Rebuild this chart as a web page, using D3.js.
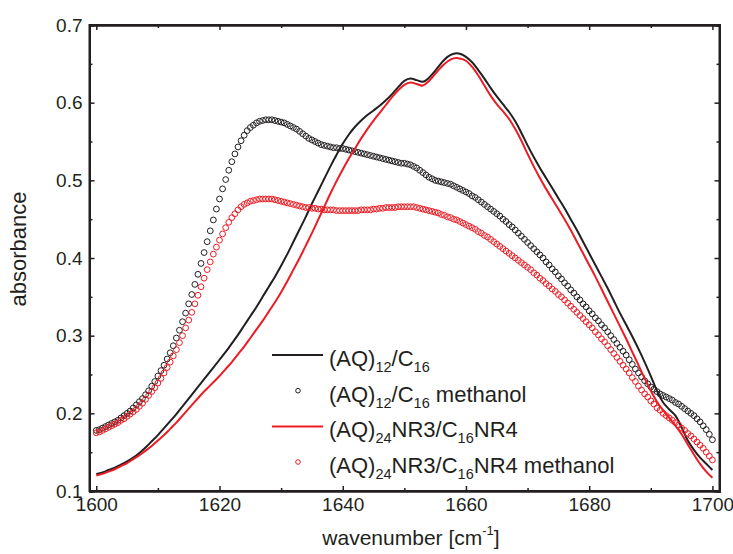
<!DOCTYPE html>
<html>
<head>
<meta charset="utf-8">
<script src="https://cdn.jsdelivr.net/npm/d3@7"></script>
<style>
  body { margin: 0; background: #fff; }
  svg { font-family: "Liberation Sans", Arial, sans-serif; }
  .axis path, .axis line { stroke: #231f20; }
  .axis text { fill: #231f20; font-size: 19px; }
</style>
</head>
<body>
<script>
// wavenumber grid (cm-1)
var lineStart = 1600, lineStep = 1;
var circStart = 1600, circStep = 0.5;

// (AQ)12/C16 solid line, 1 cm-1 steps
var lineAQ12 = [
  .122,.124,.127,.130,.134,.138,.143,.149,.156,.164,
  .172,.181,.190,.199,.209,.219,.229,.239,.249,.259,
  .269,.279,.290,.301,.313,.325,.337,.350,.363,.376,
  .390,.405,.421,.437,.453,.470,.486,.502,.518,.533,
  .547,.559,.569,.577,.584,.590,.596,.603,.611,.620,
  .628,.631,.629,.627,.632,.641,.651,.659,.663,.663,
  .659,.652,.642,.631,.619,.608,.598,.588,.576,.561,
  .545,.530,.516,.503,.490,.477,.464,.450,.436,.421,
  .406,.391,.376,.361,.345,.329,.314,.299,.283,.266,
  .248,.229,.214,.205,.197,.182,.165,.153,.143,.135,
  .127
];

// (AQ)24NR3/C16NR4 solid line, 1 cm-1 steps
var lineAQ24 = [
  .120,.122,.125,.128,.132,.136,.141,.146,.152,.158,
  .165,.172,.180,.188,.197,.206,.215,.224,.232,.240,
  .248,.257,.266,.276,.286,.297,.308,.319,.331,.343,
  .356,.370,.385,.400,.416,.432,.449,.466,.483,.499,
  .514,.528,.541,.554,.566,.577,.587,.597,.607,.616,
  .623,.626,.624,.622,.628,.637,.646,.653,.657,.657,
  .654,.646,.635,.622,.609,.598,.589,.579,.566,.551,
  .534,.518,.503,.489,.476,.463,.450,.436,.421,.406,
  .391,.376,.360,.344,.328,.312,.296,.279,.262,.245,
  .229,.215,.204,.194,.184,.173,.160,.147,.135,.125,
  .117
];

// (AQ)12/C16 methanol, open circles, 0.5 cm-1 steps
var circAQ12 = [
  .178,.179,.181,.183,.185,.187,.189,.191,.194,.197,
  .200,.203,.207,.211,.215,.219,.224,.229,.235,.241,
  .248,.255,.262,.270,.278,.287,.297,.307,.318,.329,
  .341,.353,.366,.379,.393,.407,.421,.435,.449,.463,
  .476,.489,.501,.513,.524,.534,.543,.551,.558,.564,
  .568,.571,.574,.576,.577,.578,.578,.578,.577,.576,
  .575,.574,.572,.570,.568,.566,.563,.560,.557,.554,
  .552,.550,.548,.546,.545,.544,.543,.542,.542,.541,
  .541,.540,.539,.538,.537,.536,.535,.534,.533,.532,
  .531,.530,.529,.528,.527,.526,.525,.524,.523,.522,
  .522,.521,.520,.518,.516,.513,.510,.507,.504,.502,
  .500,.499,.498,.497,.496,.495,.493,.491,.489,.487,
  .485,.483,.480,.478,.475,.472,.469,.466,.463,.460,
  .457,.454,.450,.447,.443,.440,.436,.432,.428,.424,
  .420,.416,.412,.408,.404,.400,.395,.391,.386,.382,
  .377,.373,.368,.364,.359,.355,.350,.346,.341,.337,
  .332,.328,.323,.319,.314,.310,.305,.300,.295,.290,
  .285,.280,.275,.269,.263,.257,.252,.247,.242,.238,
  .234,.231,.228,.225,.223,.221,.219,.217,.214,.212,
  .209,.206,.203,.200,.197,.193,.189,.184,.179,.173,
  .166
];

// (AQ)24NR3/C16NR4 methanol, open circles, 0.5 cm-1 steps
var circAQ24 = [
  .175,.176,.178,.180,.182,.184,.186,.188,.191,.193,
  .196,.199,.202,.205,.209,.213,.218,.223,.228,.233,
  .239,.245,.252,.259,.266,.274,.282,.291,.300,.310,
  .320,.330,.341,.352,.363,.374,.385,.395,.405,.414,
  .423,.431,.439,.446,.452,.457,.462,.466,.469,.471,
  .473,.474,.475,.476,.476,.476,.476,.476,.475,.474,
  .473,.472,.471,.470,.469,.468,.467,.466,.465,.465,
  .464,.464,.463,.463,.462,.462,.462,.462,.461,.461,
  .461,.461,.461,.461,.461,.461,.462,.462,.462,.462,
  .463,.463,.464,.464,.465,.465,.465,.465,.466,.466,
  .466,.466,.466,.466,.465,.464,.463,.462,.461,.460,
  .459,.458,.456,.455,.453,.452,.450,.449,.447,.445,
  .443,.441,.439,.437,.434,.432,.429,.427,.424,.421,
  .418,.415,.412,.409,.406,.403,.400,.397,.394,.391,
  .388,.385,.381,.378,.374,.371,.367,.364,.360,.357,
  .353,.350,.346,.342,.338,.334,.330,.326,.322,.318,
  .314,.310,.305,.301,.296,.292,.287,.282,.277,.272,
  .267,.262,.257,.252,.246,.241,.235,.230,.225,.221,
  .216,.212,.207,.204,.200,.197,.194,.191,.188,.185,
  .181,.178,.174,.171,.167,.163,.159,.155,.150,.145,
  .140
];

var xMajor = [1600, 1620, 1640, 1660, 1680, 1700];
var xMinor = [1610, 1630, 1650, 1670, 1690];
var yMajor = [0.1, 0.2, 0.3, 0.4, 0.5, 0.6, 0.7];
var yMinor = [0.15, 0.25, 0.35, 0.45, 0.55, 0.65];

var black = "#231f20", red = "#ec1c24";

var width = 733, height = 554;
var plotL = 89.5, plotR = 719.5, plotT = 25, plotB = 491;

var svg = d3.select("body").append("svg")
  .attr("width", width)
  .attr("height", height);

var x = d3.scaleLinear().domain([1598.9, 1701.15]).range([plotL, plotR]);
var y = d3.scaleLinear().domain([0.1, 0.7]).range([plotB, plotT]);

function toPoints(arr, start, step) {
  return arr.map(function(v, i) { return {w: start + i * step, a: v}; });
}

var line = d3.line()
  .x(function(d) { return x(d.w); })
  .y(function(d) { return y(d.a); })
  .curve(d3.curveCatmullRom);

// series, drawn in legend order
var series = [
  {kind: "line", color: black, data: toPoints(lineAQ12, lineStart, lineStep)},
  {kind: "circ", color: black, data: toPoints(circAQ12, circStart, circStep)},
  {kind: "line", color: red, data: toPoints(lineAQ24, lineStart, lineStep)},
  {kind: "circ", color: red, data: toPoints(circAQ24, circStart, circStep)}
];

series.forEach(function(s) {
  if (s.kind === "line") {
    svg.append("path")
      .datum(s.data)
      .attr("fill", "none")
      .attr("stroke", s.color)
      .attr("stroke-width", 2)
      .attr("d", line);
  } else {
    svg.append("g").selectAll("circle")
      .data(s.data)
      .enter().append("circle")
      .attr("cx", function(d) { return x(d.w); })
      .attr("cy", function(d) { return y(d.a); })
      .attr("r", 2.9)
      .attr("fill", "none")
      .attr("stroke", s.color)
      .attr("stroke-width", 1);
  }
});

// axes: ticks all point inward
function addAxis(axis, tx, ty) {
  return svg.append("g").attr("class", "axis")
    .attr("transform", "translate(" + tx + "," + ty + ")")
    .call(axis);
}

addAxis(d3.axisBottom(x).tickValues(xMajor).tickSize(-5).tickPadding(7).tickFormat(d3.format("d")), 0, plotB);
addAxis(d3.axisBottom(x).tickValues(xMinor).tickSize(-3).tickFormat(""), 0, plotB);
addAxis(d3.axisTop(x).tickValues(xMajor).tickSize(-5).tickFormat(""), 0, plotT);
addAxis(d3.axisTop(x).tickValues(xMinor).tickSize(-3).tickFormat(""), 0, plotT);

addAxis(d3.axisLeft(y).tickValues(yMajor).tickSize(-5).tickPadding(7).tickFormat(d3.format(".1f")), plotL, 0);
addAxis(d3.axisLeft(y).tickValues(yMinor).tickSize(-3).tickFormat(""), plotL, 0);
addAxis(d3.axisRight(y).tickValues(yMajor).tickSize(-5).tickFormat(""), plotR, 0);
addAxis(d3.axisRight(y).tickValues(yMinor).tickSize(-3).tickFormat(""), plotR, 0);

svg.selectAll(".axis path").attr("stroke-width", 2);
svg.selectAll(".axis line").attr("stroke-width", 1.5);

// frame
svg.append("rect")
  .attr("x", plotL).attr("y", plotT)
  .attr("width", plotR - plotL).attr("height", plotB - plotT)
  .attr("fill", "none").attr("stroke", black).attr("stroke-width", 2);

// axis titles
svg.append("text")
  .attr("transform", "translate(26,249) rotate(-90)")
  .attr("text-anchor", "middle")
  .attr("font-size", "22px")
  .attr("fill", black)
  .text("absorbance");

var xt = svg.append("text")
  .attr("x", 411).attr("y", 545)
  .attr("text-anchor", "middle")
  .attr("font-size", "21px")
  .attr("fill", black);
xt.append("tspan").text("wavenumber [cm");
xt.append("tspan").attr("font-size", "13px").attr("dy", -10).text("-1");
xt.append("tspan").attr("dy", 10).text("]");

// legend
var legendRows = [
  {kind: "line", color: black, parts: [["(AQ)", 0], ["12", 1], ["/C", 0], ["16", 1]]},
  {kind: "circ", color: black, parts: [["(AQ)", 0], ["12", 1], ["/C", 0], ["16", 1], [" methanol", 0]]},
  {kind: "line", color: red, parts: [["(AQ)", 0], ["24", 1], ["NR3/C", 0], ["16", 1], ["NR4", 0]]},
  {kind: "circ", color: red, parts: [["(AQ)", 0], ["24", 1], ["NR3/C", 0], ["16", 1], ["NR4 methanol", 0]]}
];
var legendY = [355, 390.7, 426.4, 462];

legendRows.forEach(function(r, i) {
  var ly = legendY[i];
  if (r.kind === "line") {
    svg.append("line")
      .attr("x1", 272).attr("x2", 323)
      .attr("y1", ly).attr("y2", ly)
      .attr("stroke", r.color).attr("stroke-width", 2);
  } else {
    svg.append("circle")
      .attr("cx", 298).attr("cy", ly).attr("r", 2.3)
      .attr("fill", "none").attr("stroke", r.color).attr("stroke-width", 1);
  }
  var t = svg.append("text")
    .attr("x", 329).attr("y", ly + 11)
    .attr("font-size", "22px")
    .attr("fill", black);
  var shifted = 0;
  r.parts.forEach(function(p) {
    var sp = t.append("tspan").text(p[0]);
    if (p[1] && !shifted) { sp.attr("font-size", "14.5px").attr("dy", 6); shifted = 1; }
    else if (p[1] && shifted) { sp.attr("font-size", "14.5px"); }
    else if (!p[1] && shifted) { sp.attr("dy", -6); shifted = 0; }
  });
});
</script>
</body>
</html>
